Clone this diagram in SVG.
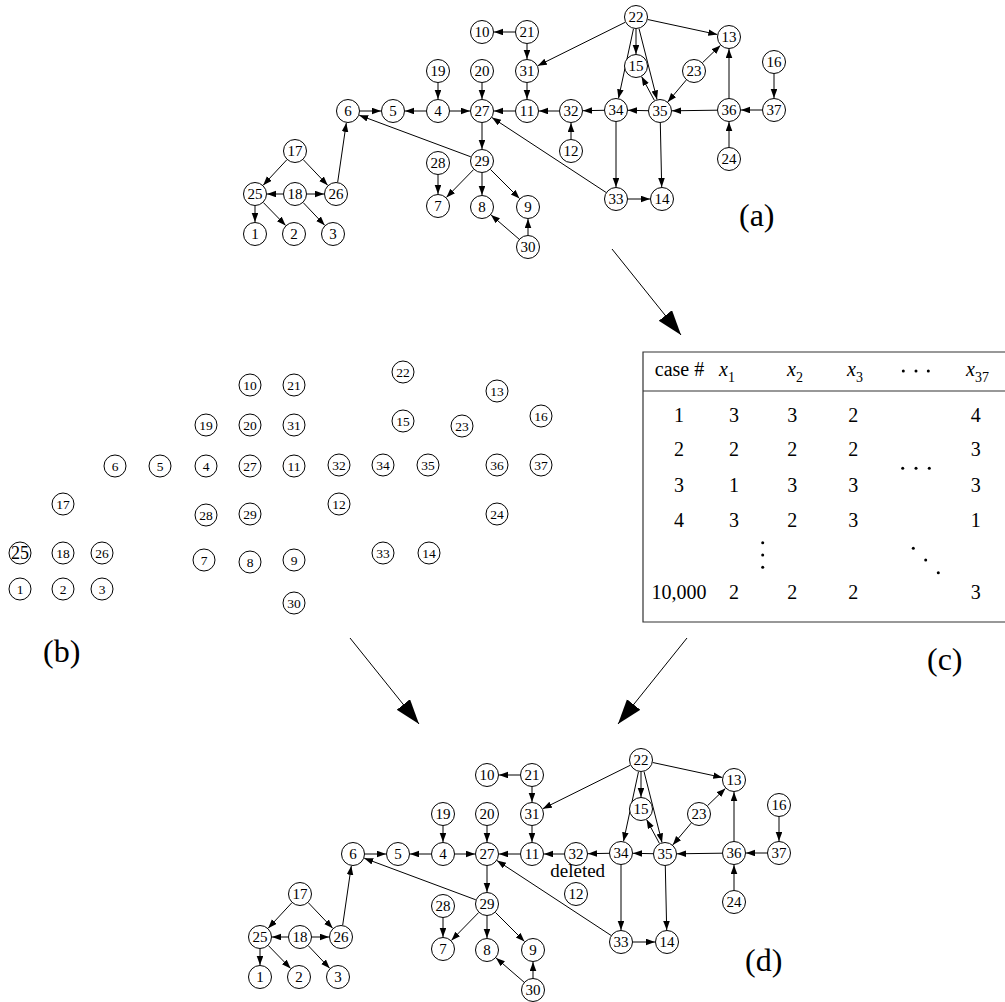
<svg xmlns="http://www.w3.org/2000/svg" width="1005" height="1002" viewBox="0 0 1005 1002">
<style>
.node circle{fill:#fff;stroke:#000;stroke-width:1}
.node text{font-family:"Liberation Serif","Times New Roman",serif;font-size:15px;text-anchor:middle;fill:#000}
.small circle{fill:#fff;stroke:#000;stroke-width:1}
.small text{font-family:"Liberation Serif","Times New Roman",serif;font-size:13.5px;text-anchor:middle;fill:#000}
.edges line{stroke:#000;stroke-width:1;marker-end:url(#ah)}
.big line{stroke:#000;stroke-width:1;marker-end:url(#bh)}
text.lbl{font-family:"Liberation Serif","Times New Roman",serif;font-size:32px;fill:#000}
.tbl text{font-family:"Liberation Serif","Times New Roman",serif;font-size:20px;fill:#000}
.tbl .c{text-anchor:middle}
.tbl .x{font-style:italic}
.sub{font-style:normal;font-size:14px}
.dot{fill:#000}
</style>
<defs>
<marker id="ah" markerUnits="userSpaceOnUse" markerWidth="10" markerHeight="8" refX="9" refY="3.3" orient="auto"><path d="M0,0 L9,3.3 L0,6.6 z" fill="#000"/></marker>
<marker id="bh" markerUnits="userSpaceOnUse" markerWidth="26" markerHeight="18" refX="25" refY="8.5" orient="auto"><path d="M0,0 L25,8.5 L0,17 z" fill="#000"/></marker>
</defs>
<rect width="1005" height="1002" fill="#fff"/>

<!-- Panel (a) -->
<g id="panel-a">
<g id="a-edges" class="edges">
<line x1="515" y1="32" x2="494" y2="32"/>
<line x1="527" y1="44" x2="527" y2="59"/>
<line x1="625.2" y1="22.3" x2="537.8" y2="65.7"/>
<line x1="636" y1="29" x2="636" y2="54"/>
<line x1="647.7" y1="19.5" x2="717.3" y2="34.5"/>
<line x1="633.5" y1="28.7" x2="618.5" y2="98.3"/>
<line x1="639" y1="28.6" x2="657" y2="99.4"/>
<line x1="702.6" y1="62.6" x2="720.4" y2="45.4"/>
<line x1="686.2" y1="80.1" x2="667.8" y2="101.9"/>
<line x1="774" y1="74" x2="774" y2="98"/>
<line x1="762" y1="110" x2="741" y2="110"/>
<line x1="717" y1="110.2" x2="672" y2="110.8"/>
<line x1="729" y1="98" x2="729" y2="49"/>
<line x1="729" y1="147" x2="729" y2="122"/>
<line x1="648" y1="110.7" x2="628" y2="110.3"/>
<line x1="654.4" y1="100.4" x2="641.6" y2="76.6"/>
<line x1="660.3" y1="123" x2="661.7" y2="187"/>
<line x1="604" y1="110.3" x2="583" y2="110.7"/>
<line x1="616" y1="122" x2="616" y2="187"/>
<line x1="628" y1="199" x2="650" y2="199"/>
<line x1="606" y1="192.4" x2="492" y2="117.6"/>
<line x1="559" y1="111" x2="539" y2="111"/>
<line x1="571" y1="139" x2="571" y2="123"/>
<line x1="527" y1="83" x2="527" y2="99"/>
<line x1="515" y1="111" x2="494" y2="111"/>
<line x1="482" y1="83" x2="482" y2="99"/>
<line x1="438" y1="83" x2="438" y2="99"/>
<line x1="450" y1="111" x2="470" y2="111"/>
<line x1="426" y1="111" x2="405" y2="111"/>
<line x1="360" y1="111" x2="381" y2="111"/>
<line x1="337.7" y1="182.1" x2="346.3" y2="122.9"/>
<line x1="470.8" y1="156.8" x2="359.2" y2="115.2"/>
<line x1="482" y1="123" x2="482" y2="149"/>
<line x1="473.6" y1="169.6" x2="446.4" y2="197.4"/>
<line x1="482" y1="173" x2="482" y2="195"/>
<line x1="490.5" y1="169.5" x2="519.5" y2="198.5"/>
<line x1="438" y1="175" x2="438" y2="194"/>
<line x1="519" y1="239.1" x2="491" y2="214.9"/>
<line x1="528" y1="235" x2="528" y2="219"/>
<line x1="286.8" y1="159.8" x2="263.2" y2="185.2"/>
<line x1="303.3" y1="159.7" x2="327.7" y2="185.3"/>
<line x1="283" y1="194" x2="267" y2="194"/>
<line x1="307" y1="194" x2="324" y2="194"/>
<line x1="303.3" y1="202.7" x2="324.7" y2="225.3"/>
<line x1="255" y1="206" x2="255" y2="222"/>
<line x1="263.4" y1="202.6" x2="285.6" y2="225.4"/>
</g>
<g id="a-n1" class="node"><circle cx="255" cy="234" r="11.5"/><text x="255" y="239">1</text></g>
<g id="a-n2" class="node"><circle cx="294" cy="234" r="11.5"/><text x="294" y="239">2</text></g>
<g id="a-n3" class="node"><circle cx="333" cy="234" r="11.5"/><text x="333" y="239">3</text></g>
<g id="a-n4" class="node"><circle cx="438" cy="111" r="11.5"/><text x="438" y="116">4</text></g>
<g id="a-n5" class="node"><circle cx="393" cy="111" r="11.5"/><text x="393" y="116">5</text></g>
<g id="a-n6" class="node"><circle cx="348" cy="111" r="11.5"/><text x="348" y="116">6</text></g>
<g id="a-n7" class="node"><circle cx="438" cy="206" r="11.5"/><text x="438" y="211">7</text></g>
<g id="a-n8" class="node"><circle cx="482" cy="207" r="11.5"/><text x="482" y="212">8</text></g>
<g id="a-n9" class="node"><circle cx="528" cy="207" r="11.5"/><text x="528" y="212">9</text></g>
<g id="a-n10" class="node"><circle cx="482" cy="32" r="11.5"/><text x="482" y="37">10</text></g>
<g id="a-n11" class="node"><circle cx="527" cy="111" r="11.5"/><text x="527" y="116">11</text></g>
<g id="a-n12" class="node"><circle cx="571" cy="151" r="11.5"/><text x="571" y="156">12</text></g>
<g id="a-n13" class="node"><circle cx="729" cy="37" r="11.5"/><text x="729" y="42">13</text></g>
<g id="a-n14" class="node"><circle cx="662" cy="199" r="11.5"/><text x="662" y="204">14</text></g>
<g id="a-n15" class="node"><circle cx="636" cy="66" r="11.5"/><text x="636" y="71">15</text></g>
<g id="a-n16" class="node"><circle cx="774" cy="62" r="11.5"/><text x="774" y="67">16</text></g>
<g id="a-n17" class="node"><circle cx="295" cy="151" r="11.5"/><text x="295" y="156">17</text></g>
<g id="a-n18" class="node"><circle cx="295" cy="194" r="11.5"/><text x="295" y="199">18</text></g>
<g id="a-n19" class="node"><circle cx="438" cy="71" r="11.5"/><text x="438" y="76">19</text></g>
<g id="a-n20" class="node"><circle cx="482" cy="71" r="11.5"/><text x="482" y="76">20</text></g>
<g id="a-n21" class="node"><circle cx="527" cy="32" r="11.5"/><text x="527" y="37">21</text></g>
<g id="a-n22" class="node"><circle cx="636" cy="17" r="11.5"/><text x="636" y="22">22</text></g>
<g id="a-n23" class="node"><circle cx="694" cy="71" r="11.5"/><text x="694" y="76">23</text></g>
<g id="a-n24" class="node"><circle cx="729" cy="159" r="11.5"/><text x="729" y="164">24</text></g>
<g id="a-n25" class="node"><circle cx="255" cy="194" r="11.5"/><text x="255" y="199">25</text></g>
<g id="a-n26" class="node"><circle cx="336" cy="194" r="11.5"/><text x="336" y="199">26</text></g>
<g id="a-n27" class="node"><circle cx="482" cy="111" r="11.5"/><text x="482" y="116">27</text></g>
<g id="a-n28" class="node"><circle cx="438" cy="163" r="11.5"/><text x="438" y="168">28</text></g>
<g id="a-n29" class="node"><circle cx="482" cy="161" r="11.5"/><text x="482" y="166">29</text></g>
<g id="a-n30" class="node"><circle cx="528" cy="247" r="11.5"/><text x="528" y="252">30</text></g>
<g id="a-n31" class="node"><circle cx="527" cy="71" r="11.5"/><text x="527" y="76">31</text></g>
<g id="a-n32" class="node"><circle cx="571" cy="111" r="11.5"/><text x="571" y="116">32</text></g>
<g id="a-n33" class="node"><circle cx="616" cy="199" r="11.5"/><text x="616" y="204">33</text></g>
<g id="a-n34" class="node"><circle cx="616" cy="110" r="11.5"/><text x="616" y="115">34</text></g>
<g id="a-n35" class="node"><circle cx="660" cy="111" r="11.5"/><text x="660" y="116">35</text></g>
<g id="a-n36" class="node"><circle cx="729" cy="110" r="11.5"/><text x="729" y="115">36</text></g>
<g id="a-n37" class="node"><circle cx="774" cy="110" r="11.5"/><text x="774" y="115">37</text></g>
<text class="lbl" x="739" y="226">(a)</text>
</g>

<!-- Panel (b) -->
<g id="panel-b">
<g id="b-n1" class="small"><circle cx="20" cy="589" r="11"/><text x="20" y="593.5">1</text></g>
<g id="b-n2" class="small"><circle cx="63" cy="589" r="11"/><text x="63" y="593.5">2</text></g>
<g id="b-n3" class="small"><circle cx="102" cy="589" r="11"/><text x="102" y="593.5">3</text></g>
<g id="b-n4" class="small"><circle cx="206" cy="466" r="11"/><text x="206" y="470.5">4</text></g>
<g id="b-n5" class="small"><circle cx="160" cy="466" r="11"/><text x="160" y="470.5">5</text></g>
<g id="b-n6" class="small"><circle cx="115" cy="466" r="11"/><text x="115" y="470.5">6</text></g>
<g id="b-n7" class="small"><circle cx="204" cy="560" r="11"/><text x="204" y="564.5">7</text></g>
<g id="b-n8" class="small"><circle cx="250" cy="562" r="11"/><text x="250" y="566.5">8</text></g>
<g id="b-n9" class="small"><circle cx="294" cy="560" r="11"/><text x="294" y="564.5">9</text></g>
<g id="b-n10" class="small"><circle cx="250" cy="385" r="11"/><text x="250" y="389.5">10</text></g>
<g id="b-n11" class="small"><circle cx="294" cy="466" r="11"/><text x="294" y="470.5">11</text></g>
<g id="b-n12" class="small"><circle cx="339" cy="504" r="11"/><text x="339" y="508.5">12</text></g>
<g id="b-n13" class="small"><circle cx="497" cy="391" r="11"/><text x="497" y="395.5">13</text></g>
<g id="b-n14" class="small"><circle cx="429" cy="553" r="11"/><text x="429" y="557.5">14</text></g>
<g id="b-n15" class="small"><circle cx="403" cy="421" r="11"/><text x="403" y="425.5">15</text></g>
<g id="b-n16" class="small"><circle cx="541" cy="416" r="11"/><text x="541" y="420.5">16</text></g>
<g id="b-n17" class="small"><circle cx="63" cy="504" r="11"/><text x="63" y="508.5">17</text></g>
<g id="b-n18" class="small"><circle cx="63" cy="553" r="11"/><text x="63" y="557.5">18</text></g>
<g id="b-n19" class="small"><circle cx="206" cy="425" r="11"/><text x="206" y="429.5">19</text></g>
<g id="b-n20" class="small"><circle cx="250" cy="425" r="11"/><text x="250" y="429.5">20</text></g>
<g id="b-n21" class="small"><circle cx="294" cy="385" r="11"/><text x="294" y="389.5">21</text></g>
<g id="b-n22" class="small"><circle cx="403" cy="372" r="11"/><text x="403" y="376.5">22</text></g>
<g id="b-n23" class="small"><circle cx="462" cy="426" r="11"/><text x="462" y="430.5">23</text></g>
<g id="b-n24" class="small"><circle cx="497" cy="514" r="11"/><text x="497" y="518.5">24</text></g>
<g id="b-n25" class="small"><circle cx="20" cy="553" r="11"/><text x="20" y="559" style="font-size:18px">25</text></g>
<g id="b-n26" class="small"><circle cx="102" cy="553" r="11"/><text x="102" y="557.5">26</text></g>
<g id="b-n27" class="small"><circle cx="250" cy="466" r="11"/><text x="250" y="470.5">27</text></g>
<g id="b-n28" class="small"><circle cx="206" cy="515" r="11"/><text x="206" y="519.5">28</text></g>
<g id="b-n29" class="small"><circle cx="250" cy="514" r="11"/><text x="250" y="518.5">29</text></g>
<g id="b-n30" class="small"><circle cx="294" cy="603" r="11"/><text x="294" y="607.5">30</text></g>
<g id="b-n31" class="small"><circle cx="294" cy="425" r="11"/><text x="294" y="429.5">31</text></g>
<g id="b-n32" class="small"><circle cx="339" cy="465" r="11"/><text x="339" y="469.5">32</text></g>
<g id="b-n33" class="small"><circle cx="383" cy="553" r="11"/><text x="383" y="557.5">33</text></g>
<g id="b-n34" class="small"><circle cx="383" cy="465" r="11"/><text x="383" y="469.5">34</text></g>
<g id="b-n35" class="small"><circle cx="428" cy="465" r="11"/><text x="428" y="469.5">35</text></g>
<g id="b-n36" class="small"><circle cx="497" cy="465" r="11"/><text x="497" y="469.5">36</text></g>
<g id="b-n37" class="small"><circle cx="541" cy="465" r="11"/><text x="541" y="469.5">37</text></g>
<text class="lbl" x="43" y="662">(b)</text>
</g>

<!-- Panel (c) table -->
<g id="panel-c">
<g class="tbl">
<path d="M1005,352 H643 V622 H1005 M643,391 H1005" fill="none" stroke="#333" stroke-width="1.2"/>
<text class="c" x="679.5" y="376">case #</text>
<text class="x" x="719" y="376">x<tspan class="sub" dy="6">1</tspan></text>
<text class="x" x="787" y="376">x<tspan class="sub" dy="6">2</tspan></text>
<text class="x" x="847" y="376">x<tspan class="sub" dy="6">3</tspan></text>
<text class="x" x="966" y="376">x<tspan class="sub" dy="6">37</tspan></text>
<circle class="dot" cx="903.3" cy="371" r="1.5"/><circle class="dot" cx="916" cy="371" r="1.5"/><circle class="dot" cx="928.3" cy="371" r="1.5"/>
<text class="c" x="679" y="422">1</text><text class="c" x="734" y="422">3</text><text class="c" x="792.3" y="422">3</text><text class="c" x="853.3" y="422">2</text><text class="c" x="975.7" y="422">4</text>
<text class="c" x="679" y="456">2</text><text class="c" x="734" y="456">2</text><text class="c" x="792.3" y="456">2</text><text class="c" x="853.3" y="456">2</text><text class="c" x="975.7" y="456">3</text>
<text class="c" x="679" y="492">3</text><text class="c" x="734" y="492">1</text><text class="c" x="792.3" y="492">3</text><text class="c" x="853.3" y="492">3</text><text class="c" x="975.7" y="492">3</text>
<text class="c" x="679" y="527">4</text><text class="c" x="734" y="527">3</text><text class="c" x="792.3" y="527">2</text><text class="c" x="853.3" y="527">3</text><text class="c" x="975.7" y="527">1</text>
<text class="c" x="679" y="599">10,000</text><text class="c" x="734" y="599">2</text><text class="c" x="792.3" y="599">2</text><text class="c" x="853.3" y="599">2</text><text class="c" x="975.7" y="599">3</text>
<circle class="dot" cx="902.7" cy="468.3" r="1.5"/><circle class="dot" cx="916" cy="468.3" r="1.5"/><circle class="dot" cx="929.3" cy="468.3" r="1.5"/>
<circle class="dot" cx="762.7" cy="542.7" r="1.5"/><circle class="dot" cx="762.7" cy="555" r="1.5"/><circle class="dot" cx="762.7" cy="567.3" r="1.5"/>
<circle class="dot" cx="913.3" cy="548.3" r="1.5"/><circle class="dot" cx="925.7" cy="560" r="1.5"/><circle class="dot" cx="938.3" cy="572.7" r="1.5"/>
</g>
<text class="lbl" x="927" y="670">(c)</text>
</g>

<!-- Big arrows between panels -->
<g id="panel-arrows" class="big">
<line x1="612" y1="249" x2="681" y2="335"/>
<line x1="350" y1="638" x2="419" y2="724"/>
<line x1="687" y1="638" x2="618" y2="724"/>
</g>

<!-- Panel (d) -->
<g id="panel-d" transform="translate(5,743)">
<g id="d-edges" class="edges">
<line x1="515" y1="32" x2="494" y2="32"/>
<line x1="527" y1="44" x2="527" y2="59"/>
<line x1="625.2" y1="22.3" x2="537.8" y2="65.7"/>
<line x1="636" y1="29" x2="636" y2="54"/>
<line x1="647.7" y1="19.5" x2="717.3" y2="34.5"/>
<line x1="633.5" y1="28.7" x2="618.5" y2="98.3"/>
<line x1="639" y1="28.6" x2="657" y2="99.4"/>
<line x1="702.6" y1="62.6" x2="720.4" y2="45.4"/>
<line x1="686.2" y1="80.1" x2="667.8" y2="101.9"/>
<line x1="774" y1="74" x2="774" y2="98"/>
<line x1="762" y1="110" x2="741" y2="110"/>
<line x1="717" y1="110.2" x2="672" y2="110.8"/>
<line x1="729" y1="98" x2="729" y2="49"/>
<line x1="729" y1="147" x2="729" y2="122"/>
<line x1="648" y1="110.7" x2="628" y2="110.3"/>
<line x1="654.4" y1="100.4" x2="641.6" y2="76.6"/>
<line x1="660.3" y1="123" x2="661.7" y2="187"/>
<line x1="604" y1="110.3" x2="583" y2="110.7"/>
<line x1="616" y1="122" x2="616" y2="187"/>
<line x1="628" y1="199" x2="650" y2="199"/>
<line x1="606" y1="192.4" x2="492" y2="117.6"/>
<line x1="559" y1="111" x2="539" y2="111"/>
<line x1="527" y1="83" x2="527" y2="99"/>
<line x1="515" y1="111" x2="494" y2="111"/>
<line x1="482" y1="83" x2="482" y2="99"/>
<line x1="438" y1="83" x2="438" y2="99"/>
<line x1="450" y1="111" x2="470" y2="111"/>
<line x1="426" y1="111" x2="405" y2="111"/>
<line x1="360" y1="111" x2="381" y2="111"/>
<line x1="337.7" y1="182.1" x2="346.3" y2="122.9"/>
<line x1="470.8" y1="156.8" x2="359.2" y2="115.2"/>
<line x1="482" y1="123" x2="482" y2="149"/>
<line x1="473.6" y1="169.6" x2="446.4" y2="197.4"/>
<line x1="482" y1="173" x2="482" y2="195"/>
<line x1="490.5" y1="169.5" x2="519.5" y2="198.5"/>
<line x1="438" y1="175" x2="438" y2="194"/>
<line x1="519" y1="239.1" x2="491" y2="214.9"/>
<line x1="528" y1="235" x2="528" y2="219"/>
<line x1="286.8" y1="159.8" x2="263.2" y2="185.2"/>
<line x1="303.3" y1="159.7" x2="327.7" y2="185.3"/>
<line x1="283" y1="194" x2="267" y2="194"/>
<line x1="307" y1="194" x2="324" y2="194"/>
<line x1="303.3" y1="202.7" x2="324.7" y2="225.3"/>
<line x1="255" y1="206" x2="255" y2="222"/>
<line x1="263.4" y1="202.6" x2="285.6" y2="225.4"/>
</g>
<g id="d-n1" class="node"><circle cx="255" cy="234" r="11.5"/><text x="255" y="239">1</text></g>
<g id="d-n2" class="node"><circle cx="294" cy="234" r="11.5"/><text x="294" y="239">2</text></g>
<g id="d-n3" class="node"><circle cx="333" cy="234" r="11.5"/><text x="333" y="239">3</text></g>
<g id="d-n4" class="node"><circle cx="438" cy="111" r="11.5"/><text x="438" y="116">4</text></g>
<g id="d-n5" class="node"><circle cx="393" cy="111" r="11.5"/><text x="393" y="116">5</text></g>
<g id="d-n6" class="node"><circle cx="348" cy="111" r="11.5"/><text x="348" y="116">6</text></g>
<g id="d-n7" class="node"><circle cx="438" cy="206" r="11.5"/><text x="438" y="211">7</text></g>
<g id="d-n8" class="node"><circle cx="482" cy="207" r="11.5"/><text x="482" y="212">8</text></g>
<g id="d-n9" class="node"><circle cx="528" cy="207" r="11.5"/><text x="528" y="212">9</text></g>
<g id="d-n10" class="node"><circle cx="482" cy="32" r="11.5"/><text x="482" y="37">10</text></g>
<g id="d-n11" class="node"><circle cx="527" cy="111" r="11.5"/><text x="527" y="116">11</text></g>
<g id="d-n12" class="node"><circle cx="571" cy="151" r="11.5"/><text x="571" y="156">12</text></g>
<g id="d-n13" class="node"><circle cx="729" cy="37" r="11.5"/><text x="729" y="42">13</text></g>
<g id="d-n14" class="node"><circle cx="662" cy="199" r="11.5"/><text x="662" y="204">14</text></g>
<g id="d-n15" class="node"><circle cx="636" cy="66" r="11.5"/><text x="636" y="71">15</text></g>
<g id="d-n16" class="node"><circle cx="774" cy="62" r="11.5"/><text x="774" y="67">16</text></g>
<g id="d-n17" class="node"><circle cx="295" cy="151" r="11.5"/><text x="295" y="156">17</text></g>
<g id="d-n18" class="node"><circle cx="295" cy="194" r="11.5"/><text x="295" y="199">18</text></g>
<g id="d-n19" class="node"><circle cx="438" cy="71" r="11.5"/><text x="438" y="76">19</text></g>
<g id="d-n20" class="node"><circle cx="482" cy="71" r="11.5"/><text x="482" y="76">20</text></g>
<g id="d-n21" class="node"><circle cx="527" cy="32" r="11.5"/><text x="527" y="37">21</text></g>
<g id="d-n22" class="node"><circle cx="636" cy="17" r="11.5"/><text x="636" y="22">22</text></g>
<g id="d-n23" class="node"><circle cx="694" cy="71" r="11.5"/><text x="694" y="76">23</text></g>
<g id="d-n24" class="node"><circle cx="729" cy="159" r="11.5"/><text x="729" y="164">24</text></g>
<g id="d-n25" class="node"><circle cx="255" cy="194" r="11.5"/><text x="255" y="199">25</text></g>
<g id="d-n26" class="node"><circle cx="336" cy="194" r="11.5"/><text x="336" y="199">26</text></g>
<g id="d-n27" class="node"><circle cx="482" cy="111" r="11.5"/><text x="482" y="116">27</text></g>
<g id="d-n28" class="node"><circle cx="438" cy="163" r="11.5"/><text x="438" y="168">28</text></g>
<g id="d-n29" class="node"><circle cx="482" cy="161" r="11.5"/><text x="482" y="166">29</text></g>
<g id="d-n30" class="node"><circle cx="528" cy="247" r="11.5"/><text x="528" y="252">30</text></g>
<g id="d-n31" class="node"><circle cx="527" cy="71" r="11.5"/><text x="527" y="76">31</text></g>
<g id="d-n32" class="node"><circle cx="571" cy="111" r="11.5"/><text x="571" y="116">32</text></g>
<g id="d-n33" class="node"><circle cx="616" cy="199" r="11.5"/><text x="616" y="204">33</text></g>
<g id="d-n34" class="node"><circle cx="616" cy="110" r="11.5"/><text x="616" y="115">34</text></g>
<g id="d-n35" class="node"><circle cx="660" cy="111" r="11.5"/><text x="660" y="116">35</text></g>
<g id="d-n36" class="node"><circle cx="729" cy="110" r="11.5"/><text x="729" y="115">36</text></g>
<g id="d-n37" class="node"><circle cx="774" cy="110" r="11.5"/><text x="774" y="115">37</text></g>
<text x="572.7" y="134" style="font-family:'Liberation Serif','Times New Roman',serif;font-size:19px;text-anchor:middle">deleted</text>
<text class="lbl" x="740" y="228">(d)</text>
</g>
</svg>
